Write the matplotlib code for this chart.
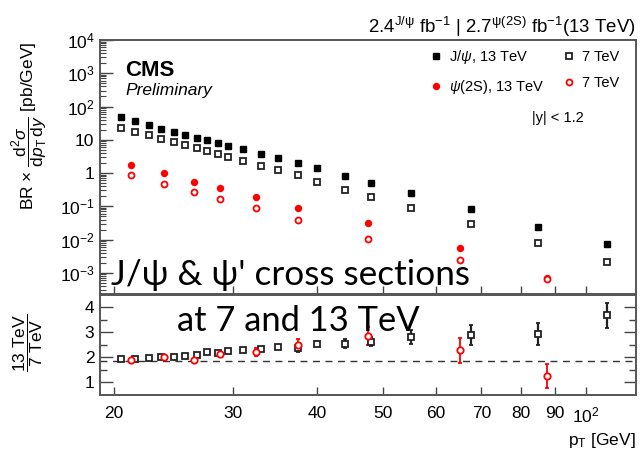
import matplotlib
matplotlib.use("Agg")
import matplotlib.pyplot as plt
import matplotlib.ticker as mticker
import numpy as np

plt.rcParams['font.family'] = ['Liberation Sans', 'DejaVu Sans']
plt.rcParams['mathtext.fontset'] = 'custom'
plt.rcParams['mathtext.rm'] = 'Liberation Sans'
plt.rcParams['mathtext.it'] = 'Liberation Sans:italic'
plt.rcParams['mathtext.bf'] = 'Liberation Sans:bold'

# ---------------- data ----------------
pt_jpsi = [20.5, 21.5, 22.5, 23.5, 24.5, 25.5, 26.5, 27.5, 28.5, 29.5, 31, 33, 35,
           37.5, 40, 44, 48, 55, 67.5, 85, 107.5]
jpsi_13 = [47, 37, 27.6, 21, 17.4, 13.8, 11.2, 9.6, 7.8, 6.6, 5.3, 3.7, 2.8,
           2.0, 1.44, 0.81, 0.49, 0.245, 0.083, 0.0244, 0.0074]
jpsi_7 = [22.9, 17.4, 13.6, 10.7, 8.5, 6.9, 5.5, 4.5, 3.7, 3.0, 2.3, 1.6, 1.2,
          0.85, 0.54, 0.31, 0.19, 0.091, 0.030, 0.0081, 0.0021]

pt_psi = [21.2, 23.75, 26.3, 28.7, 32.5, 37.5, 47.5, 65, 87.5]
psi_13 = [1.74, 1.0, 0.53, 0.36, 0.19, 0.091, 0.0315, 0.0057, 0.00069]
psi_7 = [0.89, 0.47, 0.27, 0.17, 0.089, 0.039, 0.0104, 0.0025, 0.00066]

ratio_jpsi = [1.92, 1.93, 1.96, 1.99, 2.02, 2.04, 2.10, 2.19, 2.18, 2.26, 2.27, 2.32, 2.39,
              2.35, 2.55, 2.55, 2.63, 2.81, 2.89, 2.93, 3.69]
ratio_jpsi_err = [0.04, 0.04, 0.04, 0.04, 0.04, 0.04, 0.04, 0.05, 0.05, 0.05, 0.05, 0.06, 0.06,
                  0.15, 0.12, 0.19, 0.17, 0.27, 0.42, 0.44, 0.5]
ratio_psi = [1.89, 1.99, 1.89, 2.12, 2.19, 2.48, 2.86, 2.27, 1.24]
ratio_psi_err = [0.05, 0.06, 0.06, 0.1, 0.16, 0.25, 0.37, 0.5, 0.47]

ratio_ref = 1.86

xtick_vals = [20, 30, 40, 50, 60, 70, 80, 90, 100]
xtick_labels = ['20', '30', '40', '50', '60', '70', '80', '90', r'$10^2$']

# ---------------- figure ----------------
W, H = 640, 455
fig = plt.figure(figsize=(6.4, 4.55), dpi=100)
L, R = 100, 636
ax1 = fig.add_axes([L / W, 1 - 294 / H, (R - L) / W, (294 - 40) / H])
ax2 = fig.add_axes([L / W, 1 - 394.5 / H, (R - L) / W, (394.5 - 295) / H])

spine_col = '#555555'
for ax in (ax1, ax2):
    ax.set_xscale('log')
    ax.set_xlim(19.06, 118.6)
    for s in ax.spines.values():
        s.set_color(spine_col)
        s.set_linewidth(1.4)
    ax.xaxis.set_major_locator(mticker.FixedLocator(xtick_vals))
    ax.xaxis.set_minor_locator(mticker.NullLocator())

# top panel
ax1.set_yscale('log')
ax1.set_ylim(2.3e-4, 1e4)
ax1.plot(pt_jpsi, jpsi_13, 's', color='black', ms=4.3, ls='none', label=r'J/$\psi$, 13 TeV')
ax1.plot(pt_psi, psi_13, 'o', color='#ff0000', ms=4.3, ls='none', label=r'$\psi$(2S), 13 TeV')
ax1.plot(pt_jpsi, jpsi_7, 's', mfc='white', mec='#222222', mew=1.3, ms=4.6, ls='none', label='7 TeV')
ax1.plot(pt_psi, psi_7, 'o', mfc='white', mec='#ff0000', mew=1.3, ms=4.3, ls='none', label='7 TeV')

def ylab(v, pos):
    e = int(round(np.log10(v)))
    if e == 0:
        return '1'
    if e == 1:
        return '10'
    return r'$10^{%d}$' % e

ax1.yaxis.set_major_locator(mticker.LogLocator(base=10, numticks=20))
ax1.yaxis.set_minor_locator(mticker.LogLocator(base=10, subs=np.arange(2, 10), numticks=20))
ax1.yaxis.set_major_formatter(mticker.FuncFormatter(ylab))
ax1.yaxis.set_minor_formatter(mticker.NullFormatter())
ax1.tick_params(axis='y', which='major', direction='in', length=9, width=1.0, labelsize=12.5,
                left=True, right=False, color='#444444', pad=4)
ax1.tick_params(axis='y', which='minor', direction='in', length=4.5, width=0.8,
                left=True, right=False, color='#444444')
ax1.tick_params(axis='x', which='major', direction='in', length=6, width=1.0,
                bottom=True, top=False, labelbottom=False, color='#444444')

handles, labels = ax1.get_legend_handles_labels()
leg = ax1.legend(handles, labels, ncol=2,
                 loc='upper left', bbox_to_anchor=((430 - L) / (R - L), 1 - (48 - 40) / (294 - 40)),
                 frameon=False, fontsize=10.5, handlelength=0.8, handletextpad=0.5,
                 columnspacing=1.3, labelspacing=0.85, borderaxespad=0, borderpad=0)

# bottom panel
ax2.set_ylim(0.5, 4.5)
ax2.axhline(ratio_ref, color='#333333', lw=1.0, ls=(0, (5, 4)))
ax2.errorbar(pt_jpsi, ratio_jpsi, yerr=ratio_jpsi_err, fmt='s', mfc='white', mec='#222222',
             mew=1.3, ms=4.6, ecolor='#222222', elinewidth=1.6, capsize=1.5, capthick=1.2)
ax2.errorbar(pt_psi, ratio_psi, yerr=ratio_psi_err, fmt='o', mfc='white', mec='#ff0000',
             mew=1.3, ms=4.6, ecolor='#ff0000', elinewidth=1.3, capsize=1.5, capthick=1.2)
ax2.yaxis.set_major_locator(mticker.FixedLocator([1, 2, 3, 4]))
ax2.yaxis.set_minor_locator(mticker.FixedLocator([1.5, 2.5, 3.5]))
ax2.yaxis.set_minor_formatter(mticker.NullFormatter())
ax2.tick_params(axis='y', which='major', direction='in', length=9, width=1.0, labelsize=12.5,
                left=True, right=True, color='#444444', pad=4)
ax2.tick_params(axis='y', which='minor', direction='in', length=5, width=1.0,
                left=True, right=True, color='#444444')
ax2.xaxis.set_major_formatter(mticker.FixedFormatter(xtick_labels))
ax2.tick_params(axis='x', which='major', direction='in', length=6, width=1.0, labelsize=12.5,
                bottom=True, top=False, color='#444444', pad=8)

# labels
fig.text(30 / W, 1 - 126 / H,
         r'BR $\times$ $\dfrac{\mathrm{d}^{2}\sigma}{\mathrm{d}p_{\mathrm{T}}\,\mathrm{d}y}$ [pb/GeV]',
         rotation=90, ha='center', va='center', fontsize=12.5)
fig.text(28 / W, 1 - 343 / H, r'$\dfrac{\mathrm{13\ TeV}}{\mathrm{7\ TeV}}$',
         rotation=90, ha='center', va='center', fontsize=12.5)
fig.text(R / W, 1 - 445 / H, r'p$_{\mathrm{T}}$ [GeV]', ha='right', va='baseline', fontsize=12.5)

fig.text(R / W, 1 - 33 / H,
         r'2.4$^{\mathrm{J/\psi}}$ fb$^{\mathrm{-1}}$ | 2.7$^{\mathrm{\psi(2S)}}$ fb$^{\mathrm{-1}}$(13 TeV)',
         ha='right', va='baseline', fontsize=13.4)

fig.text(125 / W, 1 - 76 / H, 'CMS', ha='left', va='baseline', fontsize=16, fontweight='bold')
fig.text(125 / W, 1 - 95 / H, 'Preliminary', ha='left', va='baseline', fontsize=12.5, style='italic')
fig.text(558 / W, 1 - 122 / H, '|y| < 1.2', ha='center', va='baseline', fontsize=10.5)

# overlay
fig.text(111 / W, 1 - 285 / H, "J/ψ & ψ' cross sections", ha='left', va='baseline',
         fontsize=25.3, family=['Lato', 'DejaVu Sans'], color='black')
fig.text(177 / W, 1 - 331 / H, "at 7 and 13 TeV", ha='left', va='baseline',
         fontsize=24.8, family=['Lato', 'DejaVu Sans'], color='black')

fig.savefig('out.png', dpi=100)
